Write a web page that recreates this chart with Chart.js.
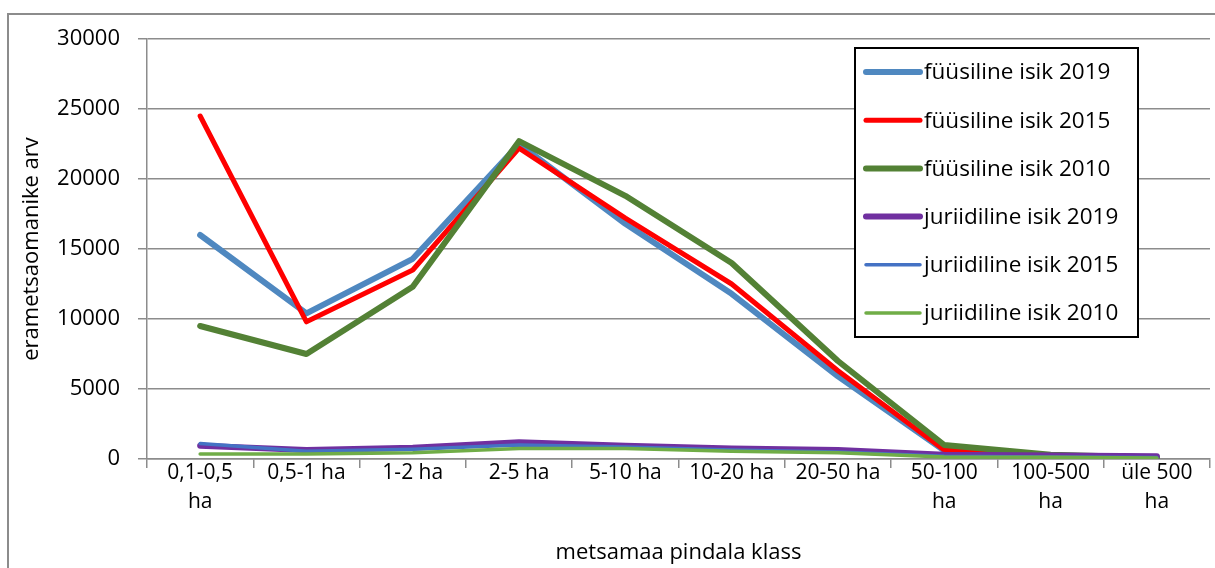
<!DOCTYPE html>
<html>
<head>
<meta charset="utf-8">
<script src="https://cdn.jsdelivr.net/npm/chart.js@4"></script>
<style>
  html, body { margin: 0; padding: 0; background: #fff; }
  #wrap { position: relative; width: 1215px; height: 568px; overflow: hidden; }
  #frame { position: absolute; left: 7px; top: 13px; width: 1300px; height: 700px;
           border-left: 2px solid #8c8c8c; border-top: 2px solid #8c8c8c; }
  canvas { position: absolute; left: 0; top: 0; }
</style>
</head>
<body>
<div id="wrap">
  <div id="frame"></div>
  <canvas id="chart" width="1215" height="568"></canvas>
</div>
<script>
const categories = [['0,1-0,5', 'ha'], '0,5-1 ha', '1-2 ha', '2-5 ha', '5-10 ha',
  '10-20 ha', '20-50 ha', ['50-100', 'ha'], ['100-500', 'ha'], ['üle 500', 'ha']];

const seriesNames = ['füüsiline isik 2019', 'füüsiline isik 2015', 'füüsiline isik 2010',
  'juriidiline isik 2019', 'juriidiline isik 2015', 'juriidiline isik 2010'];

const fyys2019 = [16000, 10400, 14300, 22500, 16800, 11800, 5900, 600, 250, 130];
const fyys2015 = [24500, 9800, 13500, 22200, 17200, 12500, 6300, 650, 250, 130];
const fyys2010 = [9500, 7500, 12300, 22700, 18800, 14000, 7000, 1000, 300, 100];
const jur2019 = [950, 650, 800, 1200, 950, 750, 650, 300, 250, 200];
const jur2015 = [1100, 550, 700, 1000, 850, 650, 500, 200, 150, 100];
const jur2010 = [350, 350, 450, 750, 750, 550, 450, 150, 120, 80];

const yTicks = [0, 5000, 10000, 15000, 20000, 25000, 30000];

const colors = ['#4f88c0', '#ff0000', '#538135', '#7030a0', '#4472c4', '#70ad47'];
const widths = [6, 5, 6, 6, 3.5, 3.5];
const allData = [fyys2019, fyys2015, fyys2010, jur2019, jur2015, jur2010];

const font = '"Open Sans", "DejaVu Sans", sans-serif';

// legend box drawn inside the plot, like the original
const boxLegend = {
  id: 'boxLegend',
  afterDraw(chart) {
    const ctx = chart.ctx;
    const x0 = 855, y0 = 48, w = 283, h = 289;
    ctx.save();
    ctx.fillStyle = '#fff';
    ctx.fillRect(x0, y0, w, h);
    ctx.strokeStyle = '#000';
    ctx.lineWidth = 2;
    ctx.strokeRect(x0, y0, w, h);
    chart.data.datasets.forEach((ds, i) => {
      const y = 72 + i * 48.2;
      ctx.beginPath();
      ctx.strokeStyle = ds.borderColor;
      ctx.lineWidth = ds.borderWidth;
      ctx.lineCap = 'round';
      ctx.moveTo(866, y);
      ctx.lineTo(920, y);
      ctx.stroke();
      ctx.fillStyle = '#000';
      ctx.font = '22.5px ' + font;
      ctx.textBaseline = 'middle';
      ctx.fillText(ds.label, 924, y + 1);
    });
    ctx.restore();
  }
};

new Chart(document.getElementById('chart'), {
  type: 'line',
  data: {
    labels: categories,
    datasets: seriesNames.map((name, i) => ({
      label: name,
      data: allData[i],
      borderColor: colors[i],
      backgroundColor: colors[i],
      borderWidth: widths[i],
      borderCapStyle: 'round',
      borderJoinStyle: 'round',
      pointRadius: 0,
      tension: 0,
      order: -i
    }))
  },
  options: {
    responsive: false,
    animation: false,
    layout: { padding: { left: 0, right: 5, top: 39, bottom: 0 } },
    plugins: { legend: { display: false }, tooltip: { enabled: false } },
    scales: {
      x: {
        offset: true,
        grid: { offset: true, drawOnChartArea: false, color: '#8c8c8c', lineWidth: 1.5, tickLength: 9 },
        border: { color: '#8c8c8c', width: 1.5 },
        ticks: { color: '#000', font: { family: font, size: 21, lineHeight: 1.35 }, padding: -9, maxRotation: 0, autoSkip: false },
        title: { display: true, text: 'metsamaa pindala klass', color: '#000',
                 font: { family: font, size: 22 }, padding: { top: 0, bottom: 2 } },
        afterFit: s => { s.height = 109; }
      },
      y: {
        min: 0, max: 30000,
        afterBuildTicks: s => { s.ticks = yTicks.map(v => ({ value: v })); },
        grid: { color: '#8c8c8c', lineWidth: 1.5, tickLength: 9 },
        border: { color: '#8c8c8c', width: 1.5 },
        ticks: { color: '#000', font: { family: font, size: 22 }, padding: 18, callback: v => String(v) },
        title: { display: true, text: 'erametsaomanike arv', color: '#000',
                 font: { family: font, size: 22 }, padding: { top: 19, bottom: 0 } },
        afterFit: s => { s.width = 147; }
      }
    }
  },
  plugins: [boxLegend]
});
</script>
</body>
</html>
